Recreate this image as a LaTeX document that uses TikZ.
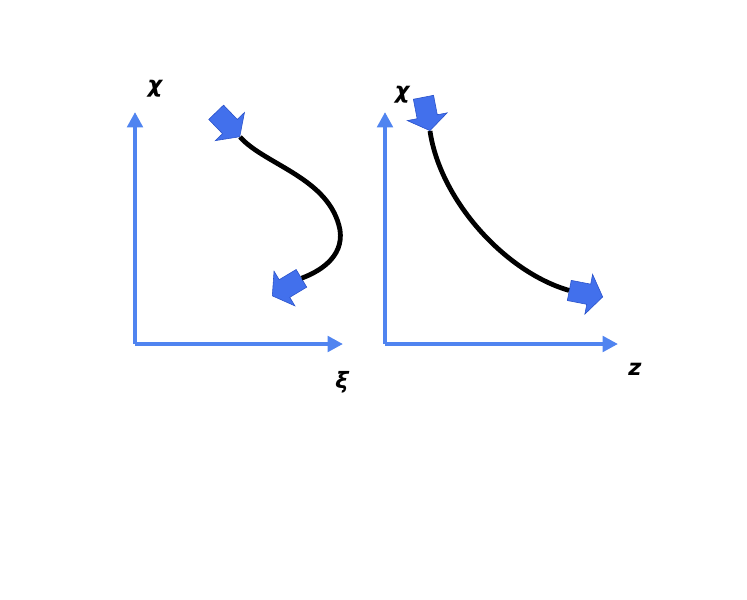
\documentclass[tikz,border=0pt]{standalone}
\usepackage{fontspec}
\usepackage{tikz}
\usetikzlibrary{arrows.meta,shapes.arrows}
\newfontfamily\lblfont{DejaVu Sans}
\definecolor{axisblue}{RGB}{80,132,240}
\definecolor{flowblue}{RGB}{66,112,236}
\definecolor{flowedge}{RGB}{40,80,200}
\tikzset{
  % axes and labels
  axis line/.style={draw=axisblue,line width=2.8pt,-{Triangle[length=11pt,width=11pt]}},
  axis label/.style={font=\lblfont\bfseries\itshape\fontsize{16}{19}\selectfont,inner sep=0},
  % block arrows at the ends of a path
  flow arrow/.style={single arrow,fill=flowblue,draw=flowedge,line width=0.4pt,
    inner xsep=0,inner ysep=0.25cm,minimum height=0.85cm,
    single arrow head extend=0.25cm,single arrow tip angle=110},
  path curve/.style={line width=3.4pt,black}
}
\begin{document}
\begin{tikzpicture}[x=0.025cm,y=-0.025cm]
  \useasboundingbox (0,0) rectangle (747,599);
  % left plot
  \coordinate (o1) at (135,344);
  \coordinate (y1) at (135,112);
  \coordinate (x1) at (343,344);
  \draw[axis line] (o1) -- (y1);
  \draw[axis line] (o1) -- (x1);
  \node[axis label] (chi1) at (155,89) {χ};
  \node[axis label] (xi) at (342,382) {ξ};
  \node[flow arrow,anchor=tip,rotate=-46] (tl) at (240,137) {};
  \node[flow arrow,anchor=tip,rotate=-149] (bl) at (272,296) {};
  \draw[path curve] (tl.tip) .. controls (265,165) and (330,178) .. (340,230)
    .. controls (344,258) and (318,272) .. (bl.tail);
  % right plot
  \coordinate (o2) at (385,344);
  \coordinate (y2) at (385,112);
  \coordinate (x2) at (618,344);
  \draw[axis line] (o2) -- (y2);
  \draw[axis line] (o2) -- (x2);
  \node[axis label] (chi2) at (402,95) {χ};
  \node[axis label] (z) at (635,369) {z};
  \node[flow arrow,anchor=tip,rotate=-79] (rt) at (430,131) {};
  \node[flow arrow,anchor=tip,rotate=-11] (rb) at (603,297) {};
  \draw[path curve] (rt.tip) .. controls (440,200) and (505,272) .. (rb.tail);
\end{tikzpicture}
\end{document}
